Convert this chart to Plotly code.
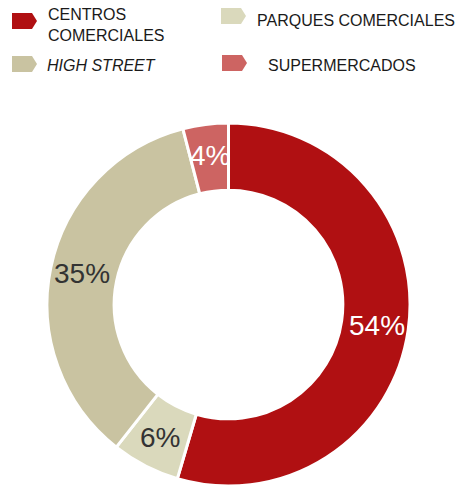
import math
import plotly.graph_objects as go

categories = ["CENTROS<br>COMERCIALES", "PARQUES COMERCIALES", "HIGH STREET", "SUPERMERCADOS"]
values = [54, 6, 35, 4]
colors = ["#B01012", "#DAD9BC", "#C9C3A1", "#CD6462"]
text_colors = ["#FFFFFF", "#333333", "#333333", "#FFFFFF"]

W, H = 456, 486

def px(x, y):
    return x / W, 1 - y / H

cx, cy, R = 228.5, 304.5, 181.5
x0d, y1d = px(cx - R, cy - R)
x1d, y0d = px(cx + R, cy + R)

fig = go.Figure()
fig.add_trace(go.Pie(
    labels=categories,
    values=values,
    textinfo="none",
    marker=dict(colors=colors, line=dict(color="#FFFFFF", width=3)),
    hole=0.63,
    sort=False,
    direction="clockwise",
    rotation=0,
    showlegend=False,
    domain=dict(x=[max(0, x0d), min(1, x1d)], y=[max(0, y0d), min(1, y1d)]),
))

annotations = []
# slice labels at the middle of each slice's arc (derived from the values)
total = sum(values)
cum = 0
r_lab = 150
for v, tc in zip(values, text_colors):
    theta = 2 * math.pi * (cum + v / 2) / total
    cum += v
    lx, ly = cx + r_lab * math.sin(theta), cy - r_lab * math.cos(theta)
    ax, ay = px(lx, ly)
    annotations.append(dict(x=ax, y=ay, xref="paper", yref="paper", text=f"{v}%", showarrow=False,
                            xanchor="center", yanchor="middle",
                            font=dict(family="Liberation Sans, Arial, sans-serif", size=28, color=tc)))

shapes = []
markers = [(12, 13, colors[0]), (221, 8, colors[1]), (12, 56, colors[2]), (222, 55, colors[3])]
for mx, my, c in markers:
    w, h, tip = 25, 16, 5
    pts = [(mx, my), (mx + w - tip, my), (mx + w, my + h / 2), (mx + w - tip, my + h), (mx, my + h)]
    path = "M " + " L ".join(f"{px(a, b)[0]:.5f},{px(a, b)[1]:.5f}" for a, b in pts) + " Z"
    shapes.append(dict(type="path", xref="paper", yref="paper", path=path,
                       fillcolor=c, line=dict(width=0)))

legend_text = [
    (46, 25, "CENTROS<br>COMERCIALES"),
    (255, 20, "PARQUES COMERCIALES"),
    (45, 66, "<i>HIGH STREET</i>"),
    (266, 66, "SUPERMERCADOS"),
]
for x, y, t in legend_text:
    ax, ay = px(x, y)
    annotations.append(dict(x=ax, y=ay, xref="paper", yref="paper", text=t, showarrow=False,
                            xanchor="left", yanchor="middle", align="left",
                            font=dict(family="Liberation Sans, Arial, sans-serif", size=16, color="#1A1A1A")))

fig.update_layout(
    width=W, height=H,
    margin=dict(l=0, r=0, t=0, b=0),
    paper_bgcolor="#FFFFFF", plot_bgcolor="#FFFFFF",
    shapes=shapes, annotations=annotations,
)

fig.write_html("out.html", config={"displayModeBar": False},
               post_script="document.body.style.margin='0';document.body.style.overflow='hidden';")
